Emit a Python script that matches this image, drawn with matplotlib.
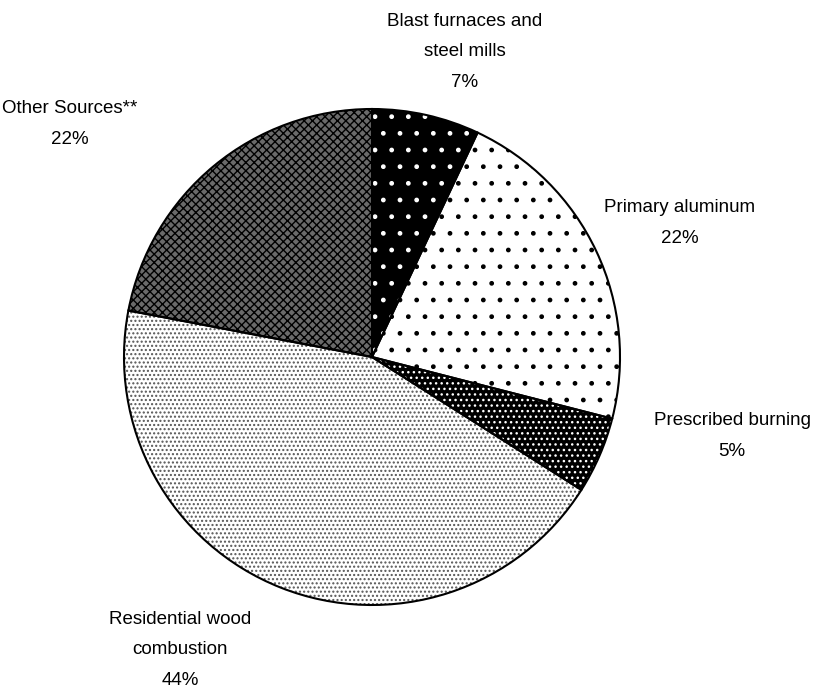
import matplotlib
matplotlib.use("Agg")
import matplotlib.pyplot as plt

# ------------------ data ------------------
sources = ["Blast furnaces and\nsteel mills", "Primary aluminum", "Prescribed burning",
           "Residential wood\ncombustion", "Other Sources**"]
shares = [7, 22, 5, 44, 22]

# face colour, hatch colour, hatch pattern
styles = [
    ("black", "white", "."),
    ("white", "black", "."),
    ("black", "white", "..."),
    ("white", "#555555", "...."),
    ("#6a6a6a", "black", "xxxx"),
]

# label anchor positions (pixels, y from top)
label_pos = [(465, 52), (680, 223), (732, 436), (180, 650), (70, 124)]

plt.rcParams['font.family'] = ['Liberation Sans', 'DejaVu Sans']
plt.rcParams['hatch.linewidth'] = 1.0

fig = plt.figure(figsize=(8.4, 7), dpi=100)
ax = fig.add_axes([0, 0, 1, 1])
ax.axis("off")

center = (372, 343)
R = 248

# base fill
wedges, _ = ax.pie(shares, startangle=90, counterclock=False, center=center, radius=R,
                   colors=[s[0] for s in styles], wedgeprops=dict(linewidth=0))
# hatch layer
hw, _ = ax.pie(shares, startangle=90, counterclock=False, center=center, radius=R,
               wedgeprops=dict(fill=False, linewidth=0))
for w, (fc, hc, h) in zip(hw, styles):
    w.set_edgecolor(hc)
    w.set_hatch(h)
# outlines
ow, _ = ax.pie(shares, startangle=90, counterclock=False, center=center, radius=R,
               wedgeprops=dict(fill=False, edgecolor="black", linewidth=1.5))

ax.set_xlim(0, 840)
ax.set_ylim(0, 700)
ax.set_aspect("equal")

for name, v, (x, y) in zip(sources, shares, label_pos):
    ax.text(x, 700 - y, f"{name}\n{v}%", ha="center", va="center", fontsize=13.5,
            linespacing=2.05)

fig.savefig("out.png", dpi=100)
